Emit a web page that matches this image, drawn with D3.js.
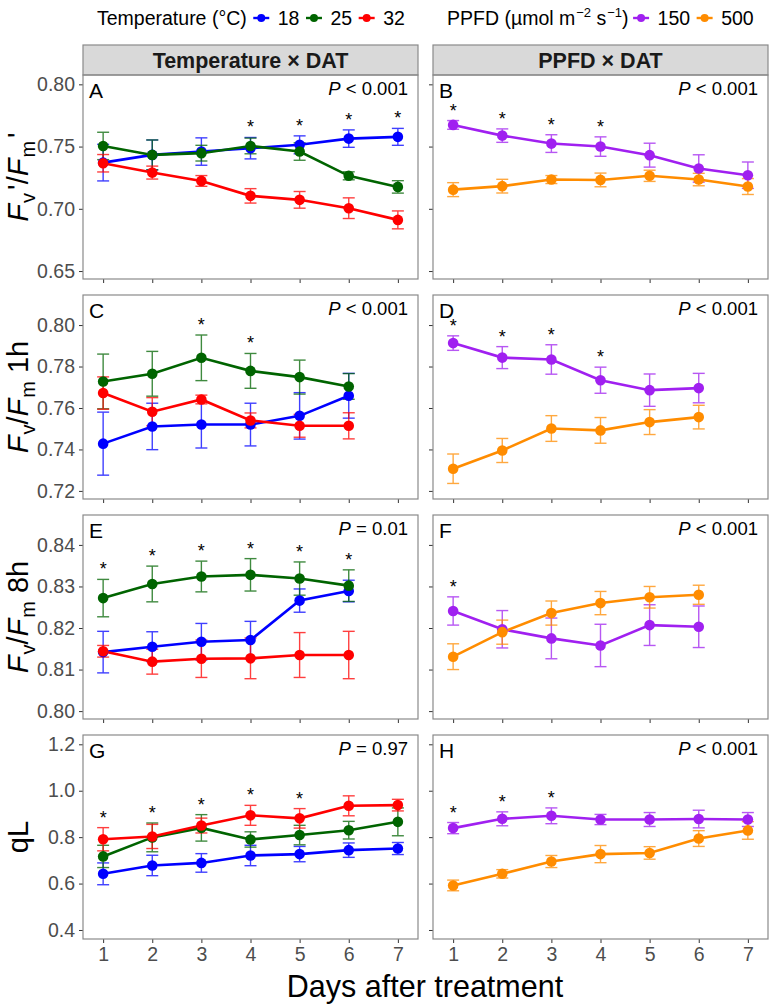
<!DOCTYPE html>
<html>
<head>
<meta charset="utf-8">
<script src="https://cdn.jsdelivr.net/npm/d3@7"></script>
<style>
body { margin: 0; background: #fff; }
svg text { font-family: "Liberation Sans", Arial, sans-serif; }
</style>
</head>
<body>
<div id="chart"></div>
<script>
var days = [1, 2, 3, 4, 5, 6, 7];
var tempLevels = ["18", "25", "32"];
var ppfdLevels = ["150", "500"];
var tempColors = ["#0000ff", "#006400", "#ff0000"];
var ppfdColors = ["#a020f0", "#ff8c00"];

// A - Fv'/Fm', temperature x DAT (18, 25, 32)
var fvfmPrimeTemp = [
  [0.7371, 0.7433, 0.7460, 0.7487, 0.7514, 0.7564, 0.7578],
  [0.7505, 0.7433, 0.7447, 0.7505, 0.7460, 0.7265, 0.7176],
  [0.7366, 0.7291, 0.7224, 0.7104, 0.7072, 0.7005, 0.6911]
];
var fvfmPrimeTempSe = [
  [0.0147, 0.0120, 0.0110, 0.0086, 0.0072, 0.0070, 0.0068],
  [0.0110, 0.0120, 0.0063, 0.0063, 0.0070, 0.0032, 0.0050],
  [0.0070, 0.0052, 0.0043, 0.0058, 0.0067, 0.0083, 0.0072]
];
var fvfmPrimeTempStars = [4, 5, 6, 7];

// B - Fv'/Fm', PPFD x DAT (150, 500)
var fvfmPrimePpfd = [
  [0.7674, 0.7588, 0.7524, 0.7500, 0.7431, 0.7324, 0.7270],
  [0.7154, 0.7182, 0.7235, 0.7232, 0.7265, 0.7235, 0.7179]
];
var fvfmPrimePpfdSe = [
  [0.0035, 0.0054, 0.0071, 0.0078, 0.0096, 0.0110, 0.0106],
  [0.0056, 0.0055, 0.0032, 0.0055, 0.0045, 0.0050, 0.0064]
];
var fvfmPrimePpfdStars = [1, 2, 3, 4];

// C - Fv/Fm 1h, temperature
var fvfm1hTemp = [
  [0.7428, 0.7511, 0.7520, 0.7520, 0.7562, 0.7659],
  [0.7728, 0.7765, 0.7842, 0.7779, 0.7749, 0.7704],
  [0.7672, 0.7582, 0.7641, 0.7540, 0.7514, 0.7514]
];
var fvfm1hTempSe = [
  [0.0152, 0.0112, 0.0113, 0.0103, 0.0112, 0.0108],
  [0.0132, 0.0108, 0.0110, 0.0084, 0.0082, 0.0062],
  [0.0078, 0.0068, 0.0021, 0.0036, 0.0055, 0.0063]
];
var fvfm1hTempStars = [3, 4];

// D - Fv/Fm 1h, PPFD
var fvfm1hPpfd = [
  [0.7913, 0.7843, 0.7834, 0.7734, 0.7686, 0.7696],
  [0.7307, 0.7395, 0.7501, 0.7492, 0.7532, 0.7556]
];
var fvfm1hPpfdSe = [
  [0.0035, 0.0053, 0.0071, 0.0063, 0.0078, 0.0071],
  [0.0071, 0.0058, 0.0062, 0.0062, 0.0060, 0.0057]
];
var fvfm1hPpfdStars = [1, 2, 3, 4];

// E - Fv/Fm 8h, temperature
var fvfm8hTemp = [
  [0.8142, 0.8155, 0.8167, 0.8171, 0.8266, 0.8289],
  [0.8272, 0.8306, 0.8324, 0.8328, 0.8319, 0.8302],
  [0.8144, 0.8119, 0.8126, 0.8127, 0.8135, 0.8135]
];
var fvfm8hTempSe = [
  [0.0050, 0.0036, 0.0044, 0.0045, 0.0028, 0.0026],
  [0.0045, 0.0043, 0.0037, 0.0039, 0.0040, 0.0038],
  [0.0014, 0.0030, 0.0045, 0.0049, 0.0054, 0.0057]
];
var fvfm8hTempStars = [1, 2, 3, 4, 5, 6];

// F - Fv/Fm 8h, PPFD
var fvfm8hPpfd = [
  [0.8241, 0.8197, 0.8175, 0.8158, 0.8207, 0.8203],
  [0.8131, 0.8190, 0.8236, 0.8260, 0.8274, 0.8280]
];
var fvfm8hPpfdSe = [
  [0.0034, 0.0045, 0.0049, 0.0051, 0.0049, 0.0050],
  [0.0031, 0.0029, 0.0029, 0.0028, 0.0026, 0.0023]
];
var fvfm8hPpfdStars = [1];

// G - qL, temperature
var qlTemp = [
  [0.642, 0.678, 0.689, 0.721, 0.727, 0.744, 0.751],
  [0.717, 0.799, 0.840, 0.790, 0.809, 0.830, 0.866],
  [0.791, 0.803, 0.850, 0.894, 0.881, 0.935, 0.938]
];
var qlTempSe = [
  [0.047, 0.044, 0.040, 0.044, 0.033, 0.031, 0.026],
  [0.048, 0.062, 0.057, 0.033, 0.042, 0.038, 0.060],
  [0.050, 0.052, 0.032, 0.043, 0.042, 0.043, 0.025]
];
var qlTempStars = [1, 2, 3, 4, 5];

// H - qL, PPFD
var qlPpfd = [
  [0.839, 0.879, 0.892, 0.876, 0.876, 0.878, 0.876],
  [0.592, 0.642, 0.695, 0.727, 0.732, 0.794, 0.829]
];
var qlPpfdSe = [
  [0.024, 0.030, 0.034, 0.022, 0.030, 0.038, 0.030],
  [0.023, 0.018, 0.026, 0.037, 0.027, 0.034, 0.038]
];
var qlPpfdStars = [1, 2, 3];

var panelLabels = ["A", "B", "C", "D", "E", "F", "G", "H"];
var pValues = ["< 0.001", "< 0.001", "< 0.001", "< 0.001", "= 0.01", "< 0.001", "= 0.97", "< 0.001"];
var yTicks = [
  [0.65, 0.70, 0.75, 0.80],
  [0.72, 0.74, 0.76, 0.78, 0.80],
  [0.80, 0.81, 0.82, 0.83, 0.84],
  [0.4, 0.6, 0.8, 1.0, 1.2]
];

// layout
var W = 769, H = 1005;
var colX = [[83, 418], [433, 768]];
var rowTop = [75, 295, 515, 735], panelH = 204;
var yDomains = [[0.6436, 0.8075], [0.7161, 0.8145], [0.7981, 0.8472], [0.3612, 1.2401]];
var yFormats = [".2f", ".2f", ".2f", ".1f"];

var rows = [
  {title: [["F", "i"], ["v", "s"], ["'", "p"], ["/"], ["F", "i"], ["m", "s"], ["'", "p"]],
   panels: [[fvfmPrimeTemp, fvfmPrimeTempSe, fvfmPrimeTempStars], [fvfmPrimePpfd, fvfmPrimePpfdSe, fvfmPrimePpfdStars]]},
  {title: [["F", "i"], ["v", "s"], ["/"], ["F", "i"], ["m", "s"], [" 1h"]],
   panels: [[fvfm1hTemp, fvfm1hTempSe, fvfm1hTempStars], [fvfm1hPpfd, fvfm1hPpfdSe, fvfm1hPpfdStars]]},
  {title: [["F", "i"], ["v", "s"], ["/"], ["F", "i"], ["m", "s"], [" 8h"]],
   panels: [[fvfm8hTemp, fvfm8hTempSe, fvfm8hTempStars], [fvfm8hPpfd, fvfm8hPpfdSe, fvfm8hPpfdStars]]},
  {title: [["qL"]],
   panels: [[qlTemp, qlTempSe, qlTempStars], [qlPpfd, qlPpfdSe, qlPpfdStars]]}
];
var colColors = [tempColors, ppfdColors];

var svg = d3.select("#chart").append("svg")
    .attr("width", W)
    .attr("height", H);

svg.append("rect").attr("width", W).attr("height", H).attr("fill", "#fff");

var x = colX.map(function(r) {
  return d3.scaleLinear().domain([0.59, 7.41]).range(r);
});

// strips
var stripTitles = ["Temperature \u00d7 DAT", "PPFD \u00d7 DAT"];
stripTitles.forEach(function(t, c) {
  svg.append("rect")
      .attr("x", colX[c][0]).attr("y", 45)
      .attr("width", colX[c][1] - colX[c][0]).attr("height", 30)
      .attr("fill", "#d9d9d9").attr("stroke", "#8a8a8a").attr("stroke-width", 1.2);
  svg.append("text")
      .attr("x", (colX[c][0] + colX[c][1]) / 2).attr("y", 67.5)
      .attr("text-anchor", "middle")
      .style("font-size", "21.5px").style("font-weight", "bold").style("fill", "#1a1a1a")
      .text(t);
});

rows.forEach(function(row, r) {
  var top = rowTop[r];
  var y = d3.scaleLinear().domain(yDomains[r]).range([top + panelH, top]);

  // y title
  var yt = svg.append("text")
      .attr("transform", "translate(28," + (top + panelH / 2) + ") rotate(-90)")
      .attr("text-anchor", "middle")
      .style("font-size", "29px").style("fill", "#000");
  var shifted = false;
  row.title.forEach(function(p) {
    var ts = yt.append("tspan").text(p[0]);
    if (p[1] === "i") ts.style("font-style", "italic");
    if (p[1] === "s") {
      ts.attr("dy", 7).attr("dx", 1).style("font-size", "20px");
      shifted = true;
    } else if (shifted) {
      ts.attr("dy", -7);
      shifted = false;
    }
    if (p[1] === "p") ts.attr("dx", 3);
  });

  row.panels.forEach(function(pan, c) {
    var means = pan[0], ses = pan[1], stars = pan[2], colors = colColors[c];
    var xs = x[c];
    var idx = r * 2 + c;

    // axes
    var yAxis = svg.append("g")
        .attr("transform", "translate(" + colX[c][0] + ",0)")
        .call(d3.axisLeft(y).tickValues(yTicks[r]).tickSize(4).tickPadding(4)
          .tickFormat(c === 0 ? d3.format(yFormats[r]) : ""));
    var xAxis = svg.append("g")
        .attr("transform", "translate(0," + (top + panelH) + ")")
        .call(d3.axisBottom(xs).tickValues(days).tickSize(4).tickPadding(4)
          .tickFormat(r === 3 ? d3.format("d") : ""));
    [yAxis, xAxis].forEach(function(a) {
      a.select(".domain").remove();
      a.selectAll("line").attr("stroke", "#333").attr("stroke-width", 1);
      a.selectAll("text").style("font-size", "19.5px").style("fill", "#4d4d4d")
        .style("font-family", "'Liberation Sans', Arial, sans-serif");
    });

    // panel border
    svg.append("rect")
        .attr("x", colX[c][0]).attr("y", top)
        .attr("width", colX[c][1] - colX[c][0]).attr("height", panelH)
        .attr("fill", "none").attr("stroke", "#8a8a8a").attr("stroke-width", 1.2);

    var g = svg.append("g");
    var series = means.map(function(m, i) {
      return m.map(function(v, j) { return {day: days[j], v: v, se: ses[i][j], color: colors[i]}; });
    });

    // error bars
    series.forEach(function(pts) {
      var eg = g.append("g").attr("stroke", pts[0].color).attr("stroke-width", 1.4).attr("opacity", 0.75);
      eg.selectAll(".v").data(pts).enter().append("line")
          .attr("x1", function(d) { return xs(d.day); })
          .attr("x2", function(d) { return xs(d.day); })
          .attr("y1", function(d) { return y(d.v - d.se); })
          .attr("y2", function(d) { return y(d.v + d.se); });
      [-1, 1].forEach(function(s) {
        eg.selectAll(".c" + s).data(pts).enter().append("line")
            .attr("x1", function(d) { return xs(d.day) - 6; })
            .attr("x2", function(d) { return xs(d.day) + 6; })
            .attr("y1", function(d) { return y(d.v + s * d.se); })
            .attr("y2", function(d) { return y(d.v + s * d.se); });
      });
    });

    // lines
    var line = d3.line()
        .x(function(d) { return xs(d.day); })
        .y(function(d) { return y(d.v); });
    series.forEach(function(pts) {
      g.append("path").datum(pts)
          .attr("fill", "none").attr("stroke", pts[0].color).attr("stroke-width", 2.6)
          .attr("d", line);
    });

    // points
    series.forEach(function(pts) {
      g.selectAll(null).data(pts).enter().append("circle")
          .attr("cx", function(d) { return xs(d.day); })
          .attr("cy", function(d) { return y(d.v); })
          .attr("r", 5.3)
          .attr("fill", pts[0].color);
    });

    // significance stars above the highest error bar
    stars.forEach(function(day) {
      var hi = d3.max(series, function(pts) { return pts[day - 1].v + pts[day - 1].se; });
      g.append("text")
          .attr("x", xs(day)).attr("y", y(hi) - 4)
          .attr("text-anchor", "middle")
          .style("font-size", "18px").style("fill", "#000")
          .text("*");
    });

    // panel letter and P value
    svg.append("text")
        .attr("x", colX[c][0] + 6).attr("y", top + 23)
        .style("font-size", "21px").style("fill", "#000")
        .text(panelLabels[idx]);
    var pt = svg.append("text")
        .attr("x", colX[c][1] - 10).attr("y", top + 19.5)
        .attr("text-anchor", "end")
        .style("font-size", "18.5px").style("fill", "#000");
    pt.append("tspan").style("font-style", "italic").text("P");
    pt.append("tspan").text(" " + pValues[idx]);
  });
});

// x title
svg.append("text")
    .attr("x", 425).attr("y", 997)
    .attr("text-anchor", "middle")
    .style("font-size", "30.5px").style("fill", "#000")
    .text("Days after treatment");

// legend
var legY = 25;
function legendGroup(x0, titleFn, levels, colors) {
  var t = svg.append("text").attr("x", x0).attr("y", legY)
      .style("font-size", "19.5px").style("fill", "#000");
  titleFn(t);
  var xe = x0 + t.node().getComputedTextLength();
  levels.forEach(function(lv, i) {
    var cx = xe + 14.5;
    svg.append("line")
        .attr("x1", cx - 8).attr("x2", cx + 8)
        .attr("y1", legY - 7).attr("y2", legY - 7)
        .attr("stroke", colors[i]).attr("stroke-width", 2.4);
    svg.append("circle").attr("cx", cx).attr("cy", legY - 7).attr("r", 4).attr("fill", colors[i]);
    var lt = svg.append("text").attr("x", cx + 16.5).attr("y", legY)
        .style("font-size", "19.5px").style("fill", "#000")
        .text(lv);
    xe = cx + 16.5 + lt.node().getComputedTextLength();
  });
}

legendGroup(97, function(t) { t.text("Temperature (\u00b0C)"); }, tempLevels, tempColors);
legendGroup(447, function(t) {
  t.append("tspan").text("PPFD (\u00b5mol m");
  t.append("tspan").attr("dy", -8).attr("dx", 1).style("font-size", "13px").text("\u22122");
  t.append("tspan").attr("dy", 8).text(" s");
  t.append("tspan").attr("dy", -8).attr("dx", 1).style("font-size", "13px").text("\u22121");
  t.append("tspan").attr("dy", 8).text(")");
}, ppfdLevels, ppfdColors);
</script>
</body>
</html>
